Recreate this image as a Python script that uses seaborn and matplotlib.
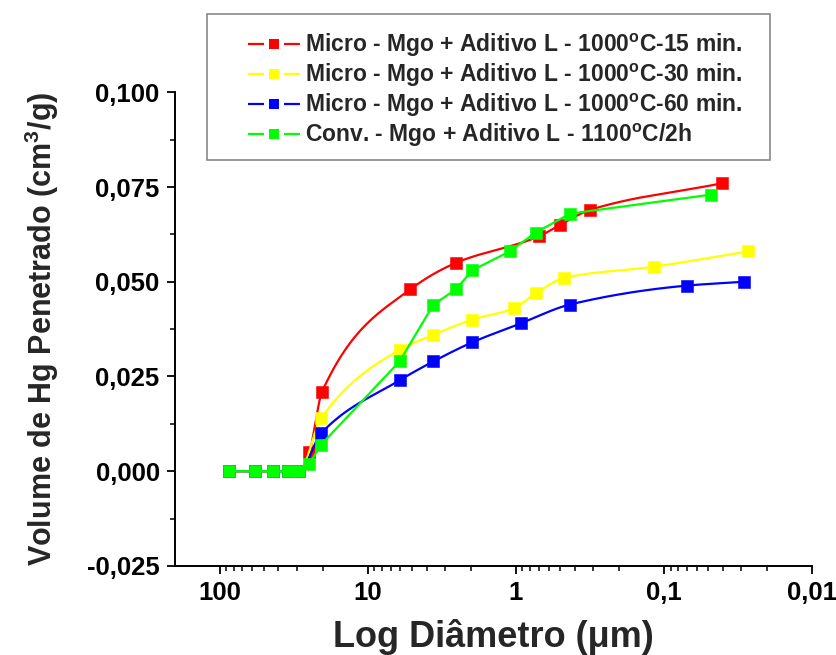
import numpy as np
import pandas as pd
import matplotlib
matplotlib.use("Agg")
import matplotlib.pyplot as plt
from matplotlib.lines import Line2D
from matplotlib.patches import Rectangle
from matplotlib.ticker import FixedLocator, FuncFormatter
import seaborn as sns

# Pore diameter (um) and intruded mercury volume (cm3/g) for each sample
zero_d = [86.5, 57.8, 43.4, 34.6, 28.9]

d_micro15 = zero_d + [24.7, 20.3, 5.15, 2.53, 0.695, 0.502, 0.313, 0.0404]
v_micro15 = [0, 0, 0, 0, 0] + [0.005, 0.021, 0.048, 0.055, 0.062, 0.065, 0.069, 0.076]

d_micro30 = zero_d + [20.6, 6.08, 3.59, 1.97, 1.03, 0.728, 0.472, 0.116, 0.027]
v_micro30 = [0, 0, 0, 0, 0] + [0.014, 0.032, 0.036, 0.040, 0.043, 0.047, 0.051, 0.054, 0.058]

d_micro60 = zero_d + [20.6, 6.08, 3.59, 1.97, 0.925, 0.43, 0.0695, 0.0288]
v_micro60 = [0, 0, 0, 0, 0] + [0.010, 0.024, 0.029, 0.034, 0.039, 0.044, 0.049, 0.050]

d_conv = zero_d + [24.7, 20.6, 6.08, 3.59, 2.53, 1.97, 1.10, 0.732, 0.428, 0.0481]
v_conv = [0, 0, 0, 0, 0] + [0.002, 0.007, 0.029, 0.044, 0.048, 0.053, 0.058, 0.063, 0.068, 0.073]

labels = [
    r"Micro - Mgo + Aditivo L - 1000$^{\mathbf{o}}$C-15 min.",
    r"Micro - Mgo + Aditivo L - 1000$^{\mathbf{o}}$C-30 min.",
    r"Micro - Mgo + Aditivo L - 1000$^{\mathbf{o}}$C-60 min.",
    r"Conv. - Mgo + Aditivo L - 1100$^{\mathbf{o}}$C/2h",
]
colors = ["#FF0000", "#FFFF00", "#0000FF", "#00FF00"]
smooth = [True, True, True, False]
series = [(d_micro15, v_micro15), (d_micro30, v_micro30),
          (d_micro60, v_micro60), (d_conv, v_conv)]

x_ticks = [100, 10, 1, 0.1, 0.01]
x_ticklabels = ["100", "10", "1", "0,1", "0,01"]
y_ticks = [-0.025, 0.0, 0.025, 0.05, 0.075, 0.1]


def pchip(x, y, xn):
    """Monotone piecewise cubic Hermite interpolation."""
    x = np.asarray(x, float)
    y = np.asarray(y, float)
    h = np.diff(x)
    delta = np.diff(y) / h
    n = len(x)
    m = np.zeros(n)
    for k in range(1, n - 1):
        if delta[k - 1] * delta[k] > 0:
            w1 = 2 * h[k] + h[k - 1]
            w2 = h[k] + 2 * h[k - 1]
            m[k] = (w1 + w2) / (w1 / delta[k - 1] + w2 / delta[k])
    m[0] = delta[0]
    m[-1] = delta[-1]
    idx = np.clip(np.searchsorted(x, xn) - 1, 0, n - 2)
    t = (xn - x[idx]) / h[idx]
    h00 = 2 * t**3 - 3 * t**2 + 1
    h10 = t**3 - 2 * t**2 + t
    h01 = -2 * t**3 + 3 * t**2
    h11 = t**3 - t**2
    return (h00 * y[idx] + h10 * h[idx] * m[idx]
            + h01 * y[idx + 1] + h11 * h[idx] * m[idx + 1])


sns.set_theme(style="ticks")
plt.rcParams["font.family"] = ["Liberation Sans", "DejaVu Sans"]
plt.rcParams["font.weight"] = "bold"
plt.rcParams["mathtext.fontset"] = "custom"
plt.rcParams["mathtext.rm"] = "Liberation Sans:bold"
plt.rcParams["mathtext.bf"] = "Liberation Sans:bold"
plt.rcParams["mathtext.it"] = "Liberation Sans:bold"
plt.rcParams["lines.scale_dashes"] = False

fig = plt.figure(figsize=(8.37, 6.55), dpi=100)
ax = fig.add_axes([0.209, 0.136, 0.761, 0.723])

curve_frames = []
point_frames = []
for i, ((d, v), lab, sm) in enumerate(zip(series, labels, smooth)):
    logd = np.log10(d)[::-1]
    vals = np.asarray(v, float)[::-1]
    if sm:
        xs = np.linspace(logd[0], logd[-1], 400)
        ys = pchip(logd, vals, xs)
    else:
        xs, ys = logd, vals
    curve_frames.append(pd.DataFrame({"d": 10 ** xs, "v": ys, "s": lab}))
    point_frames.append(pd.DataFrame({"d": d, "v": v, "s": lab}))

for i, (cf, pf) in enumerate(zip(curve_frames, point_frames)):
    sns.lineplot(data=cf, x="d", y="v", color=colors[i], lw=1.6,
                 sort=False, estimator=None, ax=ax, zorder=2 + 2 * i,
                 legend=False)
    sns.scatterplot(data=pf, x="d", y="v", color=colors[i], marker="s",
                    s=80, linewidth=0.4, edgecolor=colors[i], ax=ax,
                    zorder=3 + 2 * i, legend=False)

ax.set_xscale("log")
ax.set_xlim(200, 0.01)
ax.set_ylim(-0.025, 0.1)

ax.xaxis.set_major_locator(FixedLocator(x_ticks))
ax.xaxis.set_major_formatter(FuncFormatter(
    lambda val, pos: x_ticklabels[int(np.argmin([abs(np.log10(t) - np.log10(val)) for t in x_ticks]))]))
minor_x = [m * 10.0 ** e for e in range(-2, 2) for m in range(2, 10)]
ax.xaxis.set_minor_locator(FixedLocator(minor_x))
ax.xaxis.set_minor_formatter(FuncFormatter(lambda val, pos: ""))

ax.yaxis.set_major_locator(FixedLocator(y_ticks))
ax.yaxis.set_minor_locator(FixedLocator(np.arange(-0.0125, 0.1, 0.025)))
ax.yaxis.set_major_formatter(FuncFormatter(lambda val, pos: f"{val:.3f}".replace(".", ",")))

for sp in ["top", "right"]:
    ax.spines[sp].set_visible(False)
for sp in ["left", "bottom"]:
    ax.spines[sp].set_linewidth(1.4)
    ax.spines[sp].set_color("black")

ax.tick_params(axis="both", which="major", direction="out", length=6,
               width=1.3, colors="black", labelsize=18.5, pad=5)
ax.tick_params(axis="both", which="minor", direction="out", length=3.5,
               width=1.1, colors="black")
for lab in ax.get_xticklabels() + ax.get_yticklabels():
    lab.set_fontweight("bold")

ax.set_xlabel("Log Diâmetro (μm)", fontsize=26, fontweight="bold", labelpad=10)
ax.set_ylabel(r"Volume de Hg Penetrado (cm$^{3}$/g)", fontsize=22,
              fontweight="bold", labelpad=19)

# legend frame drawn as a figure-level box
frame = Rectangle((0.2473, 0.7557), 0.6726, 0.2229, transform=fig.transFigure,
                  facecolor="white", edgecolor="#888888", lw=1.2, zorder=4)
fig.add_artist(frame)

# legend handles: short line pieces with a gap around the square marker
handles = []
for c in colors:
    seg = Line2D([0], [0], color=c, lw=1.6, linestyle=(0, (11.5, 14.4)))
    mk = Line2D([0], [0], color=c, lw=0, marker="s", markersize=7.5,
                markeredgewidth=0)
    handles.append((seg, mk))
leg = fig.legend(handles, labels, loc="center", bbox_to_anchor=(0.592, 0.862),
                 frameon=False, prop={"weight": "bold", "size": 16.5},
                 handlelength=2.27, borderpad=0, labelspacing=0.13,
                 borderaxespad=0, handletextpad=0.22)
leg.set_zorder(5)

fig.savefig("out.png", dpi=100)
